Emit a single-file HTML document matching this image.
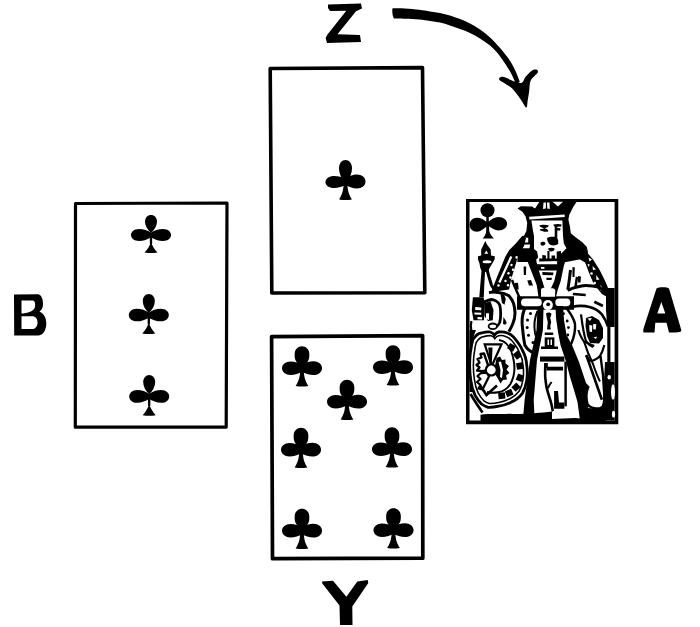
<!DOCTYPE html>
<html><head><meta charset="utf-8">
<style>
html,body{margin:0;padding:0;background:#fff;}
body{width:700px;height:627px;overflow:hidden;font-family:"Liberation Sans",sans-serif;}
svg{display:block;}
</style></head>
<body>
<svg width="700" height="627" viewBox="0 0 700 627">
<defs>
<g id="club">
<path d="M17.3,20 C15,16.5 13.5,12.5 13.5,8.3 C13.5,3.5 16.5,0 20,0 C23.5,0 26.5,3.5 26.5,8.3 C26.5,12.5 25,16.5 22.7,20 Z"/>
<path d="M21.5,19 C17,17 12.5,16.1 8.7,16.1 C3.5,16.1 0,18.8 0,22.2 C0,25.6 3.5,28 8.7,28 C12.5,28 17,26.5 21.5,24.5 Z"/>
<path d="M18.5,18.5 C23,16.3 27.5,14.4 31.3,14.4 C36.5,14.4 40,17.5 40,21.5 C40,25.5 36.5,28.5 31.3,28.5 C27.5,28.5 23,26.7 18.5,24.5 Z"/>
<path d="M18.2,22 L21.8,22 C21.8,28 22.6,33.5 26.4,39.4 C22,40.3 18,40.3 13.6,39.4 C17.4,33.5 18.2,28 18.2,22 Z"/>
</g>
<g id="club2">
<path d="M20,18 C16.3,14.8 14,10.8 14,6.6 C14,2.7 16.7,0 20,0 C23.3,0 26,2.7 26,6.6 C26,10.8 23.7,14.8 20,18 Z"/>
<path d="M21,18.2 C16.5,15.4 12.5,14 8,14 C3,14 0,16.8 0,20 C0,23.2 3,26 8,26 C12.5,26 16.5,24.6 21,21.8 Z"/>
<path d="M19,18.2 C23.5,15.4 27.5,14 32,14 C37,14 40,16.8 40,20 C40,23.2 37,26 32,26 C27.5,26 23.5,24.6 19,21.8 Z"/>
<path d="M18.7,18 L21.3,18 L21.1,29 L18.9,29 Z"/>
<path d="M20,27.5 C21.5,31 23.5,34.5 26.5,37.5 C22,38.3 18,38.3 13.5,37.5 C16.5,34.5 18.5,31 20,27.5 Z"/>
</g>
<g id="club3">
<path d="M17.2,19.5 C15.5,17.3 13.6,15.2 13,12.8 C12.5,11 12.7,9 12.7,7.6 C12.7,3.5 16,0.2 20,0.2 C24,0.2 27.3,3.5 27.3,7.6 C27.3,9 27.5,11 27,12.8 C26.4,15.2 24.5,17.3 22.8,19.5 Z"/>
<path d="M21.5,19.5 C17,16.8 12.5,15.6 8.5,15.6 C3.5,15.6 0,18.6 0,22.3 C0,26 3.5,29 8.5,29 C12.5,29 17,27.5 21.5,25 Z"/>
<path d="M18.5,19.3 C23,16.6 27.5,15.3 31.5,15.3 C36.5,15.3 40,18.5 40,22.2 C40,26 36.5,29 31.5,29 C27.5,29 23,27.5 18.5,25 Z"/>
<path d="M18.2,23 L21.8,23 C21.8,29 22.6,34.5 26.4,40 C22,40.8 18,40.8 13.6,40 C17.4,34.5 18.2,29 18.2,23 Z"/>
</g>
</defs>
<g fill="#000">
<!-- Letters -->
<path d="M328,4.5 L361,3.6 L362,8.5 L356,11.2 L337.5,34.3 L360,35 L361,42 L327,43 L325.6,38 L327.5,34.5 L346.3,10.8 L330,11 L328,8 Z"/>
<path fill-rule="evenodd" d="M14,294.5 L38.3,294.2 C41,295 43,298 43,304 C43,308 41.5,310 39.5,311.6 C44,314 46.3,318 46.3,323.5 C46.3,330 43,335.5 38,335.5 L14.2,335.5 Z M21.5,300.4 L33,300.4 C35,301 35.5,303.5 35,306.5 C34.5,310 31,312.5 23,313.5 L21.5,313.5 Z M21.5,316.3 L33,316.3 C36.5,317 37.8,320 37.5,323.5 C37.2,327 35,329 32,329 L21.5,329 Z"/>
<path fill-rule="evenodd" d="M656.5,288.5 C658,287 667,286.5 669,288.5 L681.3,330 C681.5,332 680,332.5 669,332.5 L666.5,322.8 L655.3,322.8 L654.5,332.5 L643.4,332.5 C643,330 643.5,329 644,327 Z M661.3,302 L657.3,313.5 L665.3,313.5 Z"/>
<path d="M322,581.5 L333,580.8 L346.4,596.8 L357.3,581.4 L367.7,580 L368.3,583 L352.3,606.4 L352.5,625 L340,625 L339.5,605.5 L322.3,583.5 Z"/>
<!-- Arrow -->
<path d="M392.6,8.3 C394.7,8.3 400.6,8.2 405.0,8.4 C409.4,8.6 415.1,9.2 419.3,9.7 C423.5,10.2 426.6,10.9 430.0,11.5 C433.4,12.1 436.7,12.3 440.0,13.0 C443.3,13.7 446.7,14.5 450.0,15.5 C453.3,16.5 456.7,17.7 460.0,19.0 C463.3,20.3 466.7,21.8 470.0,23.5 C473.3,25.2 476.8,27.2 480.0,29.5 C483.2,31.8 486.5,34.3 489.5,37.0 C492.5,39.7 495.4,43.0 498.0,45.8 C500.6,48.6 502.8,51.2 504.8,53.8 C506.9,56.4 508.7,58.8 510.3,61.3 C511.9,63.8 513.2,66.4 514.4,68.8 C515.6,71.2 516.6,73.6 517.5,75.8 C518.4,78.0 519.4,81.0 519.8,82.0 L516.5,84 C514.5,81.5 513.4,78.1 512.3,75.7 C511.2,73.3 509.7,71.0 508.2,68.6 C506.7,66.1 505.1,63.6 503.3,61.0 C501.5,58.4 499.7,55.6 497.5,53.0 C495.3,50.4 492.9,47.9 490.0,45.5 C487.1,43.1 483.3,40.6 480.0,38.5 C476.7,36.4 473.3,34.6 470.0,33.0 C466.7,31.4 463.3,30.2 460.0,29.0 C456.7,27.8 453.3,26.6 450.0,25.5 C446.7,24.4 443.3,23.4 440.0,22.6 C436.7,21.9 433.4,21.5 430.0,21.0 C426.6,20.5 423.5,20.0 419.3,19.6 C415.1,19.2 409.2,18.9 405.0,18.7 C400.8,18.5 395.8,18.5 394.0,18.5 C392.5,17 391.8,10 392.6,8.3 Z"/>
<path d="M499.8,77.5 C500.4,77.0 501.8,76.7 503.0,76.8 C504.2,76.9 505.4,77.5 507.2,78.3 C509.0,79.0 512.0,80.5 513.9,81.3 C515.8,82.1 517.3,82.8 518.7,83.0 C520.1,83.2 521.4,83.2 522.5,82.2 C523.6,81.2 524.3,78.5 525.4,77.0 C526.5,75.5 527.9,74.2 529.2,73.0 C530.5,71.8 531.7,70.5 533.0,70.0 C534.3,69.5 536.1,69.4 536.9,69.8 C537.7,70.2 538.2,71.5 537.8,72.5 C537.4,73.5 535.6,74.8 534.5,76.0 C533.4,77.2 531.9,78.3 531.1,79.7 C530.3,81.1 530.0,82.5 529.7,84.4 C529.4,86.3 529.5,88.5 529.2,91.1 C528.9,93.7 528.3,97.0 527.8,99.8 C527.3,102.5 527.4,107.4 526.4,107.6 C525.4,107.8 523.2,103.0 521.6,100.7 C520.0,98.4 518.4,96.1 516.8,94.0 C515.2,91.9 513.8,89.9 512.0,88.3 C510.2,86.7 508.1,85.5 506.3,84.4 C504.6,83.3 502.7,82.4 501.5,81.6 C500.3,80.8 499.5,80.2 499.2,79.5 C498.9,78.8 499.2,78.0 499.8,77.5 Z"/>
<!-- Cards -->
<g fill="none" stroke="#000" stroke-linejoin="round">
<path d="M270.2,68.5 L422.5,67.6 L424.8,292.8 L271.8,293 Z" stroke-width="3.6"/>
<path d="M75.5,203.5 L227,203 L226.2,427.1 L75.3,427.2 Z" stroke-width="3.2"/>
<path d="M271.6,336.7 L422.6,335.6 L422.8,558.2 L272.5,558.7 Z" stroke-width="3.7"/>
</g>
<!-- Clubs -->
<use href="#club" x="325.5" y="160"/>
<use href="#club2" transform="translate(131,215)"/>
<use href="#club2" transform="translate(128.8,294) scale(1,1.05)"/>
<use href="#club2" transform="translate(129.2,375) scale(1,1.07)"/>
<use href="#club3" x="282" y="346"/>
<use href="#club3" x="373" y="345"/>
<use href="#club3" x="327" y="379.5"/>
<use href="#club3" x="281" y="427.5"/>
<use href="#club3" x="372" y="427"/>
<use href="#club3" x="282" y="508.5"/>
<use href="#club3" x="373.5" y="508"/>
<!-- King card -->
<g id="king">
<path d="M466,199 L618.3,199 L618.3,424.3 L466,424.3 Z M469.5,202 L469.5,420.5 L614.6,420.5 L614.6,202 Z" fill-rule="evenodd"/>
<!-- club -->
<circle cx="487.5" cy="210.3" r="7"/>
<path d="M488,223.5 C484,219.5 480.5,217.8 477,217.8 C472.5,217.8 469.6,221 469.6,224.7 C469.6,228.5 472.5,231.7 477,231.7 C480.5,231.7 484,229 488,225 Z"/>
<path d="M487,223.5 C491,219 495,217 498.5,217 C503.5,217 507.1,220 507.1,223.8 C507.1,227.5 503.5,230.5 498.5,230.5 C495,230.5 491,228 487,224.5 Z"/>
<path d="M486.3,216 L488.7,216 L489.2,231 C490,234 492,236.5 494,238.6 L482.6,238.6 C484.5,236.5 486,234 486.2,231 Z"/>
<!-- scepter -->
<path d="M485.3,241 L487,244.5 L490.7,249.5 L491,255.5 L494.8,256.3 L494.6,259.5 L492.3,263.5 L489.5,268 L488.3,271 L485,272 L484.3,285 L483.8,297 L479.3,297 L480.3,285 L481.5,271 L480.3,268 L479.5,263.5 L478,259.5 L478,256.3 L481.2,255.5 L481.2,249.5 Z"/>
<path fill="#fff" d="M486.3,250.4 L488.3,253.8 L484.3,253.8 Z"/>
<ellipse fill="#fff" cx="487" cy="261.8" rx="4.4" ry="1.5"/>
<path fill="none" stroke="#000" stroke-width="3" d="M486.8,269 L489,277 L491.5,285.3 L494,289"/>
<!-- head mass: crown + hair + shoulders -->
<path d="M517.6,208.6 L520.8,206.2 L532,206.6 L535,208.6 L540,201 L577.2,201 L573.2,207 L569.2,215 L568.4,219.7 L570,226.9 L570.8,233.3 L575.6,237.3 L582,242.1 L586.7,246.8 L588,252 L585,262 L582,259 L566,262 L540,262 L530,260 L522.5,252 L519.6,251.2 L516.7,243 L522.5,236 L524,235.7 L526.4,230.9 L527.2,222.9 L525.6,216.5 L522.4,211.8 Z"/>
<!-- crown whites -->
<path fill="#fff" d="M543.5,202.5 L546,202.5 L545.8,208.5 L543,209 Z M547,202.5 L549.5,202.5 L549.8,209 L547.2,208.5 Z"/>
<path fill="#fff" d="M552.5,201.8 L563,201.8 L558,206.5 Z"/>
<path fill="#fff" d="M529.2,216.8 L564.6,214.4 L564.8,217 L529.4,219.4 Z"/>
<!-- face -->
<path fill="#fff" d="M531.4,220.6 L562.4,220.6 L563,236 L563.9,243.7 L566.5,248.3 L561.8,253 L558.7,255.5 L559.3,261.7 L557.7,264.8 L537.1,264.8 L536.1,259.7 L538.2,257.6 L537.1,251.4 L534,248.9 L534,236 L533,231 Z"/>
<path d="M539.2,225.5 C541.5,224.4 546,224.4 548.7,225.3 C548.8,227 546.5,228 544.5,228.2 C547,228.6 548.8,230 548.2,231.6 C545.5,232.2 542,231.5 540,230.3 L540.3,229 C542,229.2 543.5,228.8 543.8,228.1 C542,227.8 540,227 539.2,225.5 Z"/>
<path d="M553,224.8 C555.5,223.8 559.5,223.8 561.6,224.5 L561.2,226.6 L557.3,226.8 L557.3,228 L560.5,228.3 L560.2,230.5 L557.3,230.6 L557.3,237.8 L554.7,237.8 L554.7,226.8 Z"/>
<path d="M547,238 C549,236.8 553,236.5 556,237 C558,238 558.5,241 558.2,243.5 C556.5,245.8 553,245.8 550.5,245 C548.5,243.5 547,241 547,238 Z"/>
<path d="M540.5,242.5 C542,241.5 544.5,241.7 545.4,243 C545.6,244.8 544,245.8 542,245.8 C540.8,245.2 540.2,244 540.5,242.5 Z"/>
<path d="M548,248.5 C550,247.5 553,247.5 554.6,248.5 C554.8,250.5 553,251.5 551,251.5 C549.5,251.3 548.3,250 548,248.5 Z"/>
<path d="M547.4,251 L549.5,251 L549.5,259.7 L547.4,259.7 Z"/>
<path d="M542.3,255 L545.9,255.5 L545.9,260.2 L542.3,260.2 Z"/>
<path d="M551.5,255.5 L555.1,255.5 L555.1,260.7 L551.5,260.7 Z"/>
<path d="M556.7,251.4 L561,251 L560.8,261.7 L556.7,261.7 Z"/>
<path d="M539.2,258.6 L558.7,258.6 L558.7,261 L539.2,261.5 Z"/>
<!-- collar whites -->
<path fill="#fff" d="M522.5,237.7 L528.2,237.7 L528.2,242.5 L522.5,242.5 Z"/>
<path fill="#fff" d="M520.6,244.5 L530.1,244.5 L529.5,248.3 L521,248.3 Z"/>
<!-- left mantle band -->
<path d="M522.5,235.8 L526,238 L524,246 L521,251.2 L516.7,260.7 L513.9,270.3 L511,279.9 L509.1,289.5 L491.5,292 L493.7,285.6 L496.6,278 L500.5,268.4 L505.2,256.9 L509.1,250.2 L516.7,242.5 Z"/>
<path fill="none" stroke="#fff" stroke-width="2.2" d="M511.3,256.5 L499.3,282.5"/>
<g fill="#fff">
<circle cx="516.7" cy="257.4" r="1.3"/><circle cx="511.5" cy="265" r="1.2"/><circle cx="513" cy="269.8" r="1.2"/>
<circle cx="508.5" cy="273.2" r="1.2"/><circle cx="510.5" cy="277.5" r="1.2"/><circle cx="505.5" cy="280.9" r="1.2"/>
<circle cx="508" cy="285.2" r="1.2"/><circle cx="498.5" cy="285.5" r="1.2"/>
</g>
<path d="M518.5,249 L530,249 L529,262 L517.3,262 Z"/>
<!-- left V stroke -->
<path d="M524,250 L534,252 L538.3,269 L542.3,280.9 L544.5,288 L545,297 L538.5,297 L536.7,284.9 L532,272.9 L526.4,258.6 Z"/>
<!-- right V stroke -->
<path d="M557,262 L566,259 L563.8,266 L560.7,280.9 L557.5,290.5 L556,297 L550,297 L551.1,288.1 L554.3,280.9 L557.5,267.3 Z"/>
<!-- band under collar -->
<path d="M536,264.3 L562,264.3 L561,270.5 L537.5,270.5 Z"/>
<path fill="#fff" d="M541,267 L544.4,267 L544.4,268.8 L541,268.8 Z"/>
<!-- chest marks -->
<path d="M542.3,272 L553.5,272.5 L553,275.3 L542.5,275 Z"/>
<path d="M546.3,277.7 L551.9,277.7 L551.5,280.1 L546.5,280.1 Z"/>
<path d="M523.6,266.5 L526.2,266.5 L526,275.1 L523.8,275.1 Z"/>
<path d="M527.3,280.5 L531,279.9 L533,285.6 L529,285.6 Z"/>
<path d="M514.8,283 L518,282.8 L518.7,289.5 L515.5,289.5 Z"/>
<!-- right mantle band -->
<path d="M582,242 L587.5,253 L593.1,259.4 L599.5,269.7 L604.3,279.3 L607.5,286.5 L609.5,293.7 L610.7,299 L601.9,294 L597.9,288.9 L593.1,282.5 L589.1,273 L585.1,262.6 L580,259.4 Z"/>
<g fill="#fff">
<path d="M588.5,257.5 L592,259.5 L589.5,261.5 Z"/>
<path d="M587.5,264 L589.8,264.5 L588.5,267 Z"/>
<path d="M592.5,266 L596,269.5 L593,270 Z"/>
<circle cx="591.5" cy="273.5" r="1.3"/>
<path d="M596,275 L599.5,279.5 L596.5,280 Z"/>
<circle cx="594.7" cy="283" r="1.3"/>
<path d="M600.5,285 L604,290.5 L600.5,290.5 Z"/>
</g>
<!-- sleeve strokes right -->
<path d="M572.4,267.3 L574.8,267.3 L574.5,277 L572.5,277 Z"/>
<path d="M578,276 L581,276.5 L580.5,282.5 L578,282.5 Z"/>
<path fill="none" stroke="#000" stroke-width="3" d="M567.7,290.6 C571,288.5 574,287.5 577,287 C580,286 583,285.4 585.7,285.4 C590,285.4 595,286 598.6,287 C601.5,288.5 604,290.5 606.3,292.3"/>
<path fill="none" stroke="#000" stroke-width="2.5" d="M577,276.9 L575.5,287"/>
<path fill="none" stroke="#000" stroke-width="3" d="M570.5,270 C569.5,278 569,284 567.7,289.7"/>
<path fill="none" stroke="#000" stroke-width="2.5" d="M572.9,294 L585.7,294.9"/>
<path fill="none" stroke="#000" stroke-width="2.8" d="M594.3,301.7 L602.9,306"/>
<!-- belt -->
<path d="M517,296.3 L574,296.3 L574,309.7 L517,309.7 Z"/>
<rect fill="#fff" x="521" y="298.6" width="20.8" height="7.6" rx="3.8"/>
<rect fill="#fff" x="555.3" y="298.6" width="15" height="7.6" rx="3.8"/>
<circle fill="#fff" cx="547.9" cy="305.1" r="5"/>
<circle cx="548.2" cy="304.3" r="1.9"/>
<path fill="#fff" d="M541,289 C543,287 547,287.5 549,289.5 C551,287.5 554,288 555.3,290 L555,296.8 L541,296.8 Z"/>
<path fill="none" stroke="#000" stroke-width="2.4" d="M512,280 C515,288 518,294 519.9,298.3"/>
<!-- left arm: hand + sleeve -->
<path d="M472.9,297.2 L483.6,297.2 L484.8,303 L484,320.2 L473.5,320.2 L471.8,310 Z"/>
<g fill="#fff">
<path d="M475.2,307.1 L481.3,307.4 L481.3,310.2 L475.2,309.9 Z"/>
<path d="M474.4,312.5 L481.3,312.7 L481.3,314.8 L474.4,314.6 Z"/>
<path d="M477.5,317.1 L482.1,317.2 L482.1,319.4 L477.5,319.3 Z"/>
</g>
<path fill="none" stroke="#000" stroke-width="3" d="M489,292.6 C492,292 496,292 498.2,292.6 C502,293 506,294 508.9,295.7 C511,298 512.5,300.5 513.5,303.3 C514.5,306.5 515,310 515,313.3 C515,317 514,321 512.7,324 C511.5,327 510,329.5 508.9,331.6"/>
<path fill="none" stroke="#000" stroke-width="2.8" d="M481.3,304.8 C483,302.5 486,300.5 491.3,299.5 C494,299.5 498,301.5 499.7,304.8 C501,309 501,318 499.7,322.5 C498.5,325 497.5,326 496.6,326.3"/>
<path d="M484.4,303.3 L490.5,301.3 L493.5,310 L492.8,320.2 L488,321 L484.4,316 Z"/>
<path fill="#fff" d="M486,313.3 L489,313.3 L489,320 L486,319 Z"/>
<path d="M500.5,294.1 L504,294.5 L505.8,299 L504.5,304.8 L502,303 Z"/>
<path d="M503.5,317.1 C504.5,319 506.6,321.5 506.6,323 C506.3,325 503.5,325 503,323.5 Z"/>
<ellipse fill="#fff" stroke="#000" stroke-width="1.8" cx="492.8" cy="326.3" rx="4.2" ry="2.8"/>
<path fill="none" stroke="#000" stroke-width="2.2" d="M471.4,321 C470.5,325 470.5,328 471.4,331"/>
<!-- robe panels -->
<path fill="none" stroke="#000" stroke-width="3" d="M524.8,308.2 C521.5,316 521.5,322 522.6,328.9 C523.2,336 524,341 524.8,345 C527,349 530,351.5 534,352.9"/>
<path fill="none" stroke="#000" stroke-width="2" d="M537.5,311 C534.5,318 533.8,326 535,333 C535.8,337 537,339 538,340"/>
<g>
<circle cx="530.5" cy="313.5" r="1.5"/><circle cx="527.5" cy="320" r="1.5"/><circle cx="527.2" cy="327.5" r="1.5"/>
<circle cx="528.5" cy="335.2" r="1.5"/><circle cx="533" cy="342.5" r="1.5"/>
</g>
<path fill="none" stroke="#000" stroke-width="2.4" d="M566.6,308.2 C570,313 574,318 575,324 C575.5,330 574,337 571.4,343.4 C570.5,345 569.5,346 568,347"/>
<g><circle cx="563.5" cy="313.7" r="1.4"/><circle cx="567.2" cy="321" r="1.4"/><circle cx="568.4" cy="327.6" r="1.4"/><circle cx="567.8" cy="335" r="1.4"/><circle cx="566.9" cy="335.1" r="0.1"/></g>
<!-- central strip -->
<path d="M537.4,309 L543.5,309 L542.9,330 L537,360 L533.7,400 L534.6,419 L523,419 L524.6,400 L530,360 L536.5,330 Z"/>
<path d="M555.5,306 L563,306 L564,320 L566.5,335 L572,345 L579,362 L586,383 L588.8,386 L586.5,392 L587.3,400 L588.6,412 L589,420.5 L580,420.5 L577.5,402 L574,390 L570,377 L566,361.6 L560.5,345 L558,332 L556,318 Z"/>
<path d="M546,313.5 C548,312 550.5,312.5 551.5,314 L550.2,318 L551.2,322 L550.3,326 L550.8,329.5 L547,329.5 L547.8,322 L546.8,318 Z"/>
<path d="M544.7,332.5 L553.2,332.5 L553.2,335 L544.7,335 Z"/>
<path d="M544.7,337.4 L554.4,337.4 L554.4,347 L544.7,347 Z"/>
<path fill="#fff" d="M547.5,339.5 L549,339.5 L549,345 L547.5,345 Z M550.5,339.5 L552,339.5 L552,345 L550.5,345 Z"/>
<path d="M541,346.5 L558,346.5 L558,349 L541,349 Z"/>
<!-- hem, legs -->
<path d="M540,356.5 L564.4,356.5 L564.4,361.6 L540,361.6 Z"/>
<path d="M546.5,366.7 L563.1,366.7 L563.1,370.5 L546.5,370.5 Z"/>
<path d="M544,362.9 L547.8,362.9 L547.8,368 L544.5,368 Z"/>
<path fill="none" stroke="#000" stroke-width="2.6" d="M545.5,364 C545,368 545.2,373 545.2,376.9 C545.5,380 546,384 546.5,387.1 C547.2,390 548,393 549,396 C550,399 551,402 551.6,405 C552,407 552.5,409.5 552.9,411.4"/>
<path fill="none" stroke="#000" stroke-width="2" d="M551.6,382 C550,384 548.8,386 547.8,388.4"/>
<path d="M554.1,391 L558,391 L559,402.4 L564.4,402.4 L564.4,408.8 L554.1,408.8 Z"/>
<path fill="none" stroke="#000" stroke-width="2.5" d="M565.6,361.6 L565.6,406.3"/>
<path fill="#fff" d="M553,411 C560,409.5 570,410 577.1,411.5 L577.1,418.5 L553,418.5 Z"/>
<!-- right side: hand, arcs -->
<path fill="none" stroke="#000" stroke-width="2.6" d="M571.4,307 C578,305.5 584,305.5 589.6,307 C595,308.5 599,311 601.8,314.3 C604.5,318 606.5,322 607.9,326.4"/>
<path fill="none" stroke="#000" stroke-width="2.2" d="M581,314.3 C582,322 583.5,334 586,341 C588,344 590.5,346 593.3,347"/>
<path d="M586,318 L592,316 L599,320 L603,328 L603,338 L599,343.4 L590,343 L587,336 L585.5,326 Z"/>
<g fill="#fff"><path d="M589.2,325 L592.3,325.5 L592,332 L589.5,331.5 Z"/><path d="M593.1,324 L596.3,324.2 L595.8,329.5 L593.3,329.2 Z"/><path d="M593.5,337.5 L597,336.5 L596,339 Z"/><path d="M587.5,318.5 L592,318 L590,321 Z"/></g>
<path fill="none" stroke="#000" stroke-width="2.2" d="M578.3,330 C580,335 582,339 584,341.4 C588,343.5 591,345 594.3,346"/>
<path fill="none" stroke="#000" stroke-width="2" d="M584,341.4 C586,348 590,358 593.1,364.3 C595,370 597,376 600,381.4"/>
<path d="M606,288 L614.6,288 L614.6,327 L610.4,327 L610.4,370 L607.3,370 L607.3,327 L606,310 Z"/>
<path fill="none" stroke="#000" stroke-width="2.6" d="M586.3,355 L594,377 L601.9,399.7"/>
<path fill="none" stroke="#000" stroke-width="2.2" d="M586,355.4 C588,359 590,361 591.5,361 C595,360 598.5,358 600.3,355.4 C602.5,352 603.5,348 604.3,345"/>
<path fill="none" stroke="#000" stroke-width="2.4" d="M600.5,356 L603,375 L604.5,399"/>
<path d="M605,362 L614.6,362 L614.6,420.5 L600,420.5 L603,400 Z"/>
<g fill="#fff"><ellipse cx="609.2" cy="377.3" rx="1.7" ry="2.3"/><ellipse cx="613" cy="392" rx="2" ry="7.8"/><ellipse cx="613.5" cy="414.2" rx="1.6" ry="3.4"/></g>
<path fill="none" stroke="#000" stroke-width="2.6" d="M588.5,386 C586,392 585.5,398 587.4,404 C589,407 594,408.6 599.7,408.6 C602,408 603.5,406 604.2,404"/>
<!-- ground -->
<path d="M480.5,414.7 C492,413.5 500,414.5 510,413.8 C520,414.5 540,413 552,411.5 L552,419 L575,418 L588,419.3 L588,408 C595,409 600,408 606,407.9 L606,421 L480.5,421 Z"/>
<!-- shield -->
<path fill="#000" d="M469.5,330 L476,330 C472,340 469.8,352 469.8,365 C469.8,378 471,386 473,392 L469.5,392 Z"/>
<path fill="none" stroke="#000" stroke-width="2.6" d="M470.5,394 C474,400 478,406 482.5,412.5"/>
<path id="shO" fill="#fff" stroke="#000" stroke-width="2.8" d="M472.9,339.5 C476,335 479,333 481.5,333 C485,332 488,331.5 490.1,332 C492,332.5 493.5,333.5 494.4,335.2 C495.5,333.5 497,332.3 498.7,332 C502,331.5 505,332 507.3,333 C510,334 512,335.5 513.8,337.3 C517,341 520.5,345.5 522.4,350.3 C525,355 526.5,360 526.7,365.3 C527.5,370 527.5,375 526.7,380.4 C526,385 524.5,389.5 522.4,393.3 C519.5,397 516,400 511.6,401.9 C507.5,404 503,405.5 498.7,406.2 C495,407 491.5,407.5 488,407.3 C485.5,406.5 483.5,405.5 481.5,404 C479,401.5 476.8,398.5 475.1,395.4 C473,391 471.5,386 470.8,380.4 C470,375 469.5,369 469.7,363.2 C469.8,358.5 470,354 470.8,350.3 C471.3,346 472,342.5 472.9,339.5 Z"/>
<path fill="none" stroke="#000" stroke-width="1.8" transform="translate(498.3,369.5) scale(0.87,0.9) translate(-498.3,-369.5)" d="M472.9,339.5 C476,335 479,333 481.5,333 C485,332 488,331.5 490.1,332 C492,332.5 493.5,333.5 494.4,335.2 C495.5,333.5 497,332.3 498.7,332 C502,331.5 505,332 507.3,333 C510,334 512,335.5 513.8,337.3 C517,341 520.5,345.5 522.4,350.3 C525,355 526.5,360 526.7,365.3 C527.5,370 527.5,375 526.7,380.4 C526,385 524.5,389.5 522.4,393.3 C519.5,397 516,400 511.6,401.9 C507.5,404 503,405.5 498.7,406.2 C495,407 491.5,407.5 488,407.3 C485.5,406.5 483.5,405.5 481.5,404 C479,401.5 476.8,398.5 475.1,395.4 C473,391 471.5,386 470.8,380.4 C470,375 469.5,369 469.7,363.2 C469.8,358.5 470,354 470.8,350.3 C471.3,346 472,342.5 472.9,339.5 Z"/>
<path fill="none" stroke="#000" stroke-width="2" d="M499,340 C506,341 511,348 513,357 C515,365 515,376 510.3,384.2 C507,389 503,391.5 498.1,392.3 C494,393 490,393 487,392"/>
<g>
<rect x="508.4" y="343.9" width="6.2" height="6.8" transform="rotate(-60.6 511.5 347.3)"/>
<rect x="514.2" y="351.8" width="6.2" height="6.8" transform="rotate(-38.0 517.3 355.2)"/>
<rect x="516.5" y="362.6" width="6.2" height="6.8" transform="rotate(-9.6 519.6 366.0)"/>
<rect x="516.7" y="374.4" width="6.2" height="6.8" transform="rotate(21.8 519.8 377.8)"/>
<rect x="512.9" y="383.8" width="6.2" height="6.8" transform="rotate(46.2 516.0 387.2)"/>
<rect x="506.1" y="389.6" width="6.2" height="6.8" transform="rotate(66.5 509.2 393.0)"/>
<rect x="498.7" y="392.4" width="6.2" height="6.8" transform="rotate(83.9 501.8 395.8)"/>
</g>
<!-- wheel -->
<path fill="none" stroke="#000" stroke-width="2.2" d="M484.7,344.3 L501.5,344.3 L491.8,366 Z"/>
<path d="M488.3,347.5 L492.5,347.5 L491.8,364 L489.5,364 Z"/>
<path fill="#fff" stroke="#000" stroke-width="2.3" stroke-linejoin="round" d="M488,365 L484,353.5 L480.5,354 L481.5,357.5 L477.5,359 L479.5,362.5 L476.5,365 L479.5,367.5 L477,370.5 L482,371.2 L487.5,370 Z"/>
<path fill="#fff" stroke="#000" stroke-width="2.3" stroke-linejoin="round" d="M487.5,372.5 L481,373 L477.5,376 L480.5,379 L477,382 L480.5,385 L478.5,388.5 L482.5,389.5 L489,376.5 Z"/>
<path d="M495,366 L496.5,358 L500,356.5 L502,360 L505.5,359.5 L505.5,363.5 L509,366 L506.5,369.5 L509.5,373 L506,375.5 L507,379.5 L503,380 L500.5,383.5 L497.5,378 L495,374 Z"/>
<path fill="#fff" d="M498.5,362 L501,361.5 L503,370 L502,378 L500,377 L500.5,370 Z"/>
<path fill="none" stroke="#000" stroke-width="2.6" d="M480.5,386 L486.5,395 L497,385.5"/>
<circle cx="491.3" cy="370" r="6.6"/>
<circle fill="#fff" cx="491.3" cy="370" r="4.4"/>
</g>

</g>
</svg>
</body></html>
